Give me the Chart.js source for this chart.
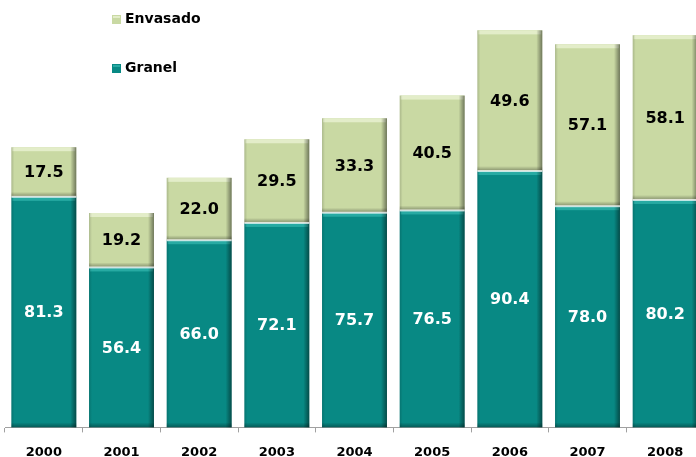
<!DOCTYPE html>
<html>
<head>
<meta charset="utf-8">
<script src="https://cdn.jsdelivr.net/npm/chart.js@4.4.1/dist/chart.umd.min.js"></script>
<style>
  html, body { margin: 0; padding: 0; background: #fff; overflow: hidden; }
  #wrap { width: 710px; height: 472px; }
</style>
</head>
<body>
<div id="wrap"><canvas id="myChart"></canvas></div>
<script>
const years = ['2000', '2001', '2002', '2003', '2004', '2005', '2006', '2007', '2008'];
const granel = [81.3, 56.4, 66.0, 72.1, 75.7, 76.5, 90.4, 78.0, 80.2];
const envasado = [17.5, 19.2, 22.0, 29.5, 33.3, 40.5, 49.6, 57.1, 58.1];

const FONT = "'DejaVu Sans', sans-serif";

// bevel look + separator line between segments
const bevel = {
  id: 'bevel',
  afterDatasetsDraw(chart) {
    const ctx = chart.ctx;
    chart.data.datasets.forEach((ds, di) => {
      chart.getDatasetMeta(di).data.forEach(bar => {
        const w = bar.width;
        const l = bar.x - w / 2, r = bar.x + w / 2;
        const t = bar.y, b = bar.base;
        ctx.save();
        // top highlight
        ctx.fillStyle = ds.lightColor;
        ctx.fillRect(l + 1, t, w - 2, 4);
        // right shadow
        let g = ctx.createLinearGradient(r - 6, 0, r, 0);
        g.addColorStop(0, 'rgba(0,0,0,0)');
        g.addColorStop(1, 'rgba(0,0,0,0.45)');
        ctx.fillStyle = g;
        ctx.fillRect(r - 6, t, 6, b - t);
        // bottom shadow
        g = ctx.createLinearGradient(0, b - 5, 0, b);
        g.addColorStop(0, 'rgba(0,0,0,0)');
        g.addColorStop(1, 'rgba(0,0,0,0.35)');
        ctx.fillStyle = g;
        ctx.fillRect(l, b - 5, w, 5);
        // left soft shade
        g = ctx.createLinearGradient(l, 0, l + 3, 0);
        g.addColorStop(0, 'rgba(0,0,0,0.15)');
        g.addColorStop(1, 'rgba(0,0,0,0)');
        ctx.fillStyle = g;
        ctx.fillRect(l, t, 3, b - t);
        if (di === 1) {
          ctx.fillStyle = 'rgba(255,255,255,0.75)';
          ctx.fillRect(l, b - 1, w, 2);
        }
        ctx.restore();
      });
    });
  }
};

// value labels in the middle of each segment
const valueLabels = {
  id: 'valueLabels',
  afterDatasetsDraw(chart) {
    const ctx = chart.ctx;
    ctx.save();
    ctx.font = 'bold 16px ' + FONT;
    ctx.textAlign = 'center';
    ctx.textBaseline = 'middle';
    chart.data.datasets.forEach((ds, di) => {
      chart.getDatasetMeta(di).data.forEach((bar, i) => {
        ctx.fillStyle = ds.labelColor;
        ctx.fillText(ds.data[i].toFixed(1), bar.x, (bar.y + bar.base) / 2 + 1);
      });
    });
    ctx.restore();
  }
};

// vertical legend in the top-left corner
const sideLegend = {
  id: 'sideLegend',
  afterDraw(chart) {
    const ctx = chart.ctx;
    const items = [chart.data.datasets[1], chart.data.datasets[0]];
    ctx.save();
    ctx.font = 'bold 14px ' + FONT;
    ctx.textBaseline = 'middle';
    items.forEach((ds, k) => {
      const y = 19 + k * 49;
      ctx.fillStyle = ds.backgroundColor;
      ctx.fillRect(112, y - 4, 9, 9);
      ctx.fillStyle = ds.lightColor;
      ctx.fillRect(113, y - 3, 7, 2);
      ctx.fillStyle = '#000';
      ctx.fillText(ds.label, 125, y);
    });
    ctx.restore();
  }
};

const ctx = document.getElementById('myChart').getContext('2d');
const myChart = new Chart(ctx, {
  type: 'bar',
  data: {
    labels: years,
    datasets: [
      {
        label: 'Granel',
        data: granel,
        backgroundColor: '#088984',
        lightColor: '#27aaa3',
        labelColor: '#ffffff',
        categoryPercentage: 1,
        barPercentage: 0.836
      },
      {
        label: 'Envasado',
        data: envasado,
        backgroundColor: '#c9d9a3',
        lightColor: '#e3edc9',
        labelColor: '#000000',
        categoryPercentage: 1,
        barPercentage: 0.836
      }
    ]
  },
  options: {
    responsive: true,
    maintainAspectRatio: false,
    animation: false,
    layout: { padding: { left: 5, right: 6, top: 2, bottom: 0 } },
    plugins: {
      legend: { display: false },
      tooltip: { enabled: false }
    },
    scales: {
      x: {
        stacked: true,
        grid: {
          display: true,
          drawOnChartArea: false,
          drawTicks: true,
          tickLength: 5,
          offset: true,
          color: '#a0a0a0'
        },
        border: { display: true, color: '#a0a0a0' },
        ticks: {
          color: '#000',
          font: { family: FONT, weight: 'bold', size: 13 },
          padding: 12
        }
      },
      y: {
        stacked: true,
        display: false,
        min: 0,
        max: 150
      }
    }
  },
  plugins: [bevel, valueLabels, sideLegend]
});
</script>
</body>
</html>
